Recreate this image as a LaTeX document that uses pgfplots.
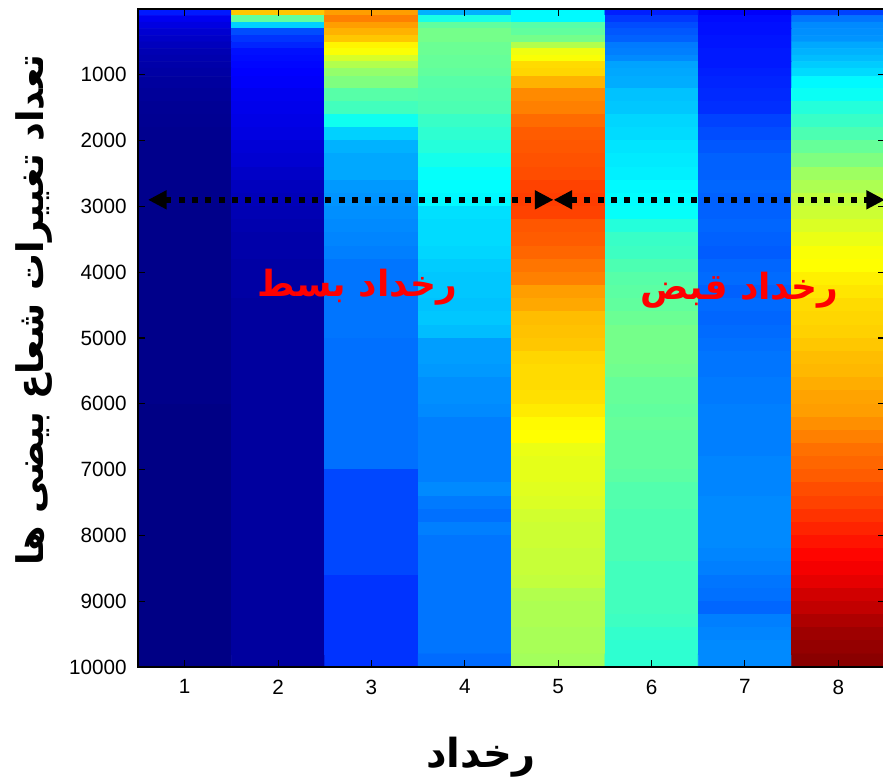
\documentclass[border=0pt]{standalone}
\usepackage{fontspec}
\setmainfont{Liberation Sans}
\newfontfamily\arabicfont[Script=Arabic]{DejaVu Sans}
\TeXXeTstate=1
\usepackage{pgfplots}
\pgfplotsset{compat=1.18}
\usetikzlibrary{arrows.meta}

\begin{document}
\begin{tikzpicture}
\begin{axis}[
  scale only axis,
  width=560.25pt, height=493.5pt,
  xmin=0.5, xmax=8.5, ymin=0, ymax=10000,
  y dir=reverse,
  enlargelimits=false,
  axis on top,
  colormap/jet,
  point meta min=0, point meta max=1,
  xtick={1,...,8},
  ytick={1000,2000,...,10000},
  scaled y ticks=false,
  yticklabel style={/pgf/number format/1000 sep={}},
  /pgf/number format/assume math mode=true,
  tick label style={font=\fontsize{15.5}{18}\selectfont},
  tick align=inside,
  tick pos=both,
  major tick length=5pt,
  every tick/.style={black, line width=0.8pt},
  axis line style={line width=0.9pt},
  xticklabel style={yshift=-6pt},
  yticklabel style={xshift=-5pt},
  xlabel={\arabicfont\bfseries\fontsize{30}{34}\selectfont\beginR رخداد\endR},
  xlabel style={xshift=-23pt, yshift=-25pt},
  ylabel={\arabicfont\bfseries\fontsize{27.5}{32}\selectfont\beginR تعداد تغییرات  شعاع بیضی ها\endR},
  ylabel style={xshift=21pt, yshift=6pt},
]
% one row per line: columns 1..8 at the given depth, value on the jet scale
\addplot[matrix plot*, mesh/cols=8, point meta=explicit] table[row sep=\\, meta=c] {
x y c\\
1 50 0.15\\ 2 50 0.68\\ 3 50 0.72\\ 4 50 0.30\\ 5 50 0.37\\ 6 50 0.155\\ 7 50 0.12\\ 8 50 0.19\\
1 150 0.11\\ 2 150 0.47\\ 3 150 0.75\\ 4 150 0.40\\ 5 150 0.37\\ 6 150 0.18\\ 7 150 0.135\\ 8 150 0.24\\
1 250 0.095\\ 2 250 0.33\\ 3 250 0.72\\ 4 250 0.47\\ 5 250 0.46\\ 6 250 0.20\\ 7 250 0.14\\ 8 250 0.26\\
1 350 0.08\\ 2 350 0.20\\ 3 350 0.70\\ 4 350 0.49\\ 5 350 0.47\\ 6 350 0.21\\ 7 350 0.14\\ 8 350 0.265\\
1 450 0.07\\ 2 450 0.175\\ 3 450 0.68\\ 4 450 0.49\\ 5 450 0.49\\ 6 450 0.22\\ 7 450 0.145\\ 8 450 0.27\\
1 550 0.06\\ 2 550 0.16\\ 3 550 0.635\\ 4 550 0.48\\ 5 550 0.55\\ 6 550 0.245\\ 7 550 0.145\\ 8 550 0.29\\
1 650 0.05\\ 2 650 0.14\\ 3 650 0.62\\ 4 650 0.48\\ 5 650 0.61\\ 6 650 0.25\\ 7 650 0.15\\ 8 650 0.30\\
1 750 0.045\\ 2 750 0.135\\ 3 750 0.585\\ 4 750 0.475\\ 5 750 0.62\\ 6 750 0.26\\ 7 750 0.15\\ 8 750 0.31\\
1 850 0.04\\ 2 850 0.13\\ 3 850 0.55\\ 4 850 0.475\\ 5 850 0.66\\ 6 850 0.285\\ 7 850 0.15\\ 8 850 0.325\\
1 950 0.035\\ 2 950 0.125\\ 3 950 0.52\\ 4 950 0.47\\ 5 950 0.665\\ 6 950 0.29\\ 7 950 0.155\\ 8 950 0.34\\
1 1100 0.03\\ 2 1100 0.12\\ 3 1100 0.50\\ 4 1100 0.46\\ 5 1100 0.70\\ 6 1100 0.295\\ 7 1100 0.16\\ 8 1100 0.37\\
1 1300 0.025\\ 2 1300 0.11\\ 3 1300 0.46\\ 4 1300 0.455\\ 5 1300 0.74\\ 6 1300 0.315\\ 7 1300 0.165\\ 8 1300 0.385\\
1 1500 0.02\\ 2 1500 0.105\\ 3 1500 0.44\\ 4 1500 0.45\\ 5 1500 0.75\\ 6 1500 0.32\\ 7 1500 0.17\\ 8 1500 0.41\\
1 1700 0.018\\ 2 1700 0.10\\ 3 1700 0.39\\ 4 1700 0.43\\ 5 1700 0.77\\ 6 1700 0.335\\ 7 1700 0.19\\ 8 1700 0.43\\
1 1900 0.015\\ 2 1900 0.095\\ 3 1900 0.33\\ 4 1900 0.42\\ 5 1900 0.785\\ 6 1900 0.34\\ 7 1900 0.20\\ 8 1900 0.45\\
1 2100 0.012\\ 2 2100 0.085\\ 3 2100 0.30\\ 4 2100 0.41\\ 5 2100 0.79\\ 6 2100 0.35\\ 7 2100 0.21\\ 8 2100 0.475\\
1 2300 0.012\\ 2 2300 0.08\\ 3 2300 0.29\\ 4 2300 0.395\\ 5 2300 0.795\\ 6 2300 0.355\\ 7 2300 0.22\\ 8 2300 0.50\\
1 2500 0.012\\ 2 2500 0.07\\ 3 2500 0.29\\ 4 2500 0.38\\ 5 2500 0.80\\ 6 2500 0.36\\ 7 2500 0.22\\ 8 2500 0.53\\
1 2700 0.012\\ 2 2700 0.06\\ 3 2700 0.275\\ 4 2700 0.375\\ 5 2700 0.81\\ 6 2700 0.37\\ 7 2700 0.225\\ 8 2700 0.545\\
1 2900 0.012\\ 2 2900 0.055\\ 3 2900 0.27\\ 4 2900 0.37\\ 5 2900 0.815\\ 6 2900 0.375\\ 7 2900 0.22\\ 8 2900 0.565\\
1 3100 0.01\\ 2 3100 0.05\\ 3 3100 0.265\\ 4 3100 0.345\\ 5 3100 0.81\\ 6 3100 0.38\\ 7 3100 0.22\\ 8 3100 0.575\\
1 3300 0.01\\ 2 3300 0.045\\ 3 3300 0.26\\ 4 3300 0.34\\ 5 3300 0.79\\ 6 3300 0.41\\ 7 3300 0.225\\ 8 3300 0.59\\
1 3500 0.01\\ 2 3500 0.04\\ 3 3500 0.255\\ 4 3500 0.34\\ 5 3500 0.785\\ 6 3500 0.43\\ 7 3500 0.22\\ 8 3500 0.605\\
1 3700 0.01\\ 2 3700 0.04\\ 3 3700 0.25\\ 4 3700 0.335\\ 5 3700 0.775\\ 6 3700 0.435\\ 7 3700 0.215\\ 8 3700 0.62\\
1 3900 0.01\\ 2 3900 0.035\\ 3 3900 0.24\\ 4 3900 0.325\\ 5 3900 0.76\\ 6 3900 0.45\\ 7 3900 0.225\\ 8 3900 0.625\\
1 4100 0.01\\ 2 4100 0.035\\ 3 4100 0.24\\ 4 4100 0.32\\ 5 4100 0.75\\ 6 4100 0.46\\ 7 4100 0.23\\ 8 4100 0.64\\
1 4300 0.01\\ 2 4300 0.035\\ 3 4300 0.24\\ 4 4300 0.32\\ 5 4300 0.72\\ 6 4300 0.465\\ 7 4300 0.22\\ 8 4300 0.65\\
1 4500 0.01\\ 2 4500 0.03\\ 3 4500 0.24\\ 4 4500 0.315\\ 5 4500 0.71\\ 6 4500 0.47\\ 7 4500 0.23\\ 8 4500 0.66\\
1 4700 0.01\\ 2 4700 0.03\\ 3 4700 0.24\\ 4 4700 0.32\\ 5 4700 0.69\\ 6 4700 0.48\\ 7 4700 0.225\\ 8 4700 0.665\\
1 4900 0.01\\ 2 4900 0.03\\ 3 4900 0.24\\ 4 4900 0.31\\ 5 4900 0.685\\ 6 4900 0.49\\ 7 4900 0.23\\ 8 4900 0.67\\
1 5100 0.01\\ 2 5100 0.03\\ 3 5100 0.235\\ 4 5100 0.28\\ 5 5100 0.68\\ 6 5100 0.49\\ 7 5100 0.235\\ 8 5100 0.68\\
1 5300 0.01\\ 2 5300 0.03\\ 3 5300 0.235\\ 4 5300 0.28\\ 5 5300 0.665\\ 6 5300 0.49\\ 7 5300 0.24\\ 8 5300 0.69\\
1 5500 0.01\\ 2 5500 0.03\\ 3 5500 0.235\\ 4 5500 0.275\\ 5 5500 0.66\\ 6 5500 0.485\\ 7 5500 0.24\\ 8 5500 0.695\\
1 5700 0.01\\ 2 5700 0.03\\ 3 5700 0.235\\ 4 5700 0.265\\ 5 5700 0.66\\ 6 5700 0.475\\ 7 5700 0.245\\ 8 5700 0.705\\
1 5900 0.01\\ 2 5900 0.03\\ 3 5900 0.235\\ 4 5900 0.265\\ 5 5900 0.655\\ 6 5900 0.475\\ 7 5900 0.245\\ 8 5900 0.715\\
1 6100 0.005\\ 2 6100 0.03\\ 3 6100 0.235\\ 4 6100 0.26\\ 5 6100 0.645\\ 6 6100 0.47\\ 7 6100 0.25\\ 8 6100 0.72\\
1 6300 0.005\\ 2 6300 0.03\\ 3 6300 0.235\\ 4 6300 0.25\\ 5 6300 0.63\\ 6 6300 0.475\\ 7 6300 0.25\\ 8 6300 0.735\\
1 6500 0.005\\ 2 6500 0.03\\ 3 6500 0.235\\ 4 6500 0.25\\ 5 6500 0.625\\ 6 6500 0.47\\ 7 6500 0.25\\ 8 6500 0.75\\
1 6700 0.005\\ 2 6700 0.03\\ 3 6700 0.235\\ 4 6700 0.25\\ 5 6700 0.605\\ 6 6700 0.47\\ 7 6700 0.25\\ 8 6700 0.765\\
1 6900 0.005\\ 2 6900 0.03\\ 3 6900 0.235\\ 4 6900 0.25\\ 5 6900 0.60\\ 6 6900 0.47\\ 7 6900 0.255\\ 8 6900 0.775\\
1 7100 0.005\\ 2 7100 0.03\\ 3 7100 0.195\\ 4 7100 0.25\\ 5 7100 0.60\\ 6 7100 0.465\\ 7 7100 0.255\\ 8 7100 0.785\\
1 7300 0.005\\ 2 7300 0.03\\ 3 7300 0.195\\ 4 7300 0.26\\ 5 7300 0.595\\ 6 7300 0.455\\ 7 7300 0.255\\ 8 7300 0.80\\
1 7500 0.005\\ 2 7500 0.03\\ 3 7500 0.195\\ 4 7500 0.245\\ 5 7500 0.59\\ 6 7500 0.455\\ 7 7500 0.26\\ 8 7500 0.81\\
1 7700 0.005\\ 2 7700 0.03\\ 3 7700 0.195\\ 4 7700 0.235\\ 5 7700 0.58\\ 6 7700 0.45\\ 7 7700 0.26\\ 8 7700 0.825\\
1 7900 0.005\\ 2 7900 0.03\\ 3 7900 0.195\\ 4 7900 0.25\\ 5 7900 0.575\\ 6 7900 0.45\\ 7 7900 0.26\\ 8 7900 0.84\\
1 8100 0.005\\ 2 8100 0.03\\ 3 8100 0.195\\ 4 8100 0.24\\ 5 8100 0.575\\ 6 8100 0.45\\ 7 8100 0.26\\ 8 8100 0.855\\
1 8300 0.005\\ 2 8300 0.03\\ 3 8300 0.195\\ 4 8300 0.24\\ 5 8300 0.57\\ 6 8300 0.45\\ 7 8300 0.255\\ 8 8300 0.87\\
1 8500 0.005\\ 2 8500 0.03\\ 3 8500 0.195\\ 4 8500 0.24\\ 5 8500 0.57\\ 6 8500 0.44\\ 7 8500 0.25\\ 8 8500 0.885\\
1 8700 0.005\\ 2 8700 0.03\\ 3 8700 0.175\\ 4 8700 0.24\\ 5 8700 0.565\\ 6 8700 0.44\\ 7 8700 0.24\\ 8 8700 0.90\\
1 8900 0.005\\ 2 8900 0.03\\ 3 8900 0.175\\ 4 8900 0.24\\ 5 8900 0.55\\ 6 8900 0.44\\ 7 8900 0.235\\ 8 8900 0.92\\
1 9100 0.005\\ 2 9100 0.03\\ 3 9100 0.175\\ 4 9100 0.24\\ 5 9100 0.545\\ 6 9100 0.44\\ 7 9100 0.225\\ 8 9100 0.935\\
1 9300 0.005\\ 2 9300 0.03\\ 3 9300 0.175\\ 4 9300 0.24\\ 5 9300 0.545\\ 6 9300 0.435\\ 7 9300 0.25\\ 8 9300 0.955\\
1 9500 0.005\\ 2 9500 0.03\\ 3 9500 0.175\\ 4 9500 0.24\\ 5 9500 0.54\\ 6 9500 0.425\\ 7 9500 0.255\\ 8 9500 0.97\\
1 9700 0.005\\ 2 9700 0.03\\ 3 9700 0.175\\ 4 9700 0.24\\ 5 9700 0.54\\ 6 9700 0.42\\ 7 9700 0.26\\ 8 9700 0.98\\
1 9900 0.005\\ 2 9900 0.03\\ 3 9900 0.175\\ 4 9900 0.23\\ 5 9900 0.535\\ 6 9900 0.42\\ 7 9900 0.26\\ 8 9900 0.99\\
};

% dotted double arrows at depth 2900
\draw[line width=4.5pt, dash pattern=on 4.5pt off 5.5pt,
      {Triangle[length=14pt,width=13.5pt]}-{Triangle[length=14pt,width=13.5pt]}]
  (axis cs:0.607,2900) -- (axis cs:4.95,2900);
\draw[line width=4.5pt, dash pattern=on 4.5pt off 5.5pt,
      {Triangle[length=14pt,width=13.5pt]}-{Triangle[length=14pt,width=13.5pt]}]
  (axis cs:4.95,2900) -- (axis cs:8.5,2900);

% event labels
\node[text=red, font=\arabicfont\bfseries\fontsize{27}{32}\selectfont]
  at (axis cs:2.85,4225) {\beginR رخداد بسط\endR};
\node[text=red, font=\arabicfont\bfseries\fontsize{27}{32}\selectfont]
  at (axis cs:6.94,4270) {\beginR رخداد قبض\endR};
\end{axis}
\pgfresetboundingbox
\path[use as bounding box]
  ([xshift=-103.5pt,yshift=-84.75pt]current axis.south west)
  rectangle ([xshift=-1.5pt,yshift=6.75pt]current axis.north east);
\end{tikzpicture}
\end{document}
